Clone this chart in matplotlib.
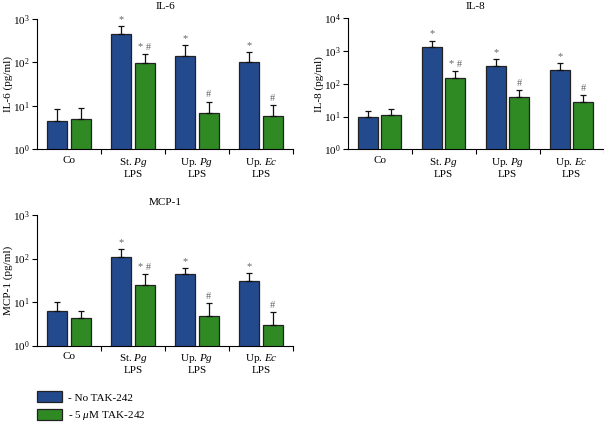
import numpy as np
import matplotlib
matplotlib.use("Agg")
import matplotlib.pyplot as plt
from matplotlib.patches import Patch
from matplotlib.ticker import FixedLocator, LogLocator, NullFormatter

plt.rcParams['font.family'] = ['Liberation Serif', 'DejaVu Serif']
plt.rcParams['mathtext.fontset'] = 'custom'
plt.rcParams['mathtext.rm'] = 'Liberation Serif'
plt.rcParams['mathtext.it'] = 'Liberation Serif:italic'

groups = ['Co', 'St. $Pg$\nLPS', 'Up. $Pg$\nLPS', 'Up. $Ec$\nLPS']

# IL-6 (pg/ml)
il6_no = [4.5, 460, 143, 100]
il6_no_err = [3.9, 240, 103, 76]
il6_tak = [4.9, 97, 6.8, 5.7]
il6_tak_err = [3.9, 61, 5.8, 4.8]

# IL-8 (pg/ml)
il8_no = [9.8, 1300, 350, 260]
il8_no_err = [4.8, 800, 220, 170]
il8_tak = [11.2, 155, 40, 28]
il8_tak_err = [6.4, 100, 26, 19]

# MCP-1 (pg/ml)
mcp_no = [6.2, 109, 43, 31]
mcp_no_err = [3.8, 55, 16, 16]
mcp_tak = [4.4, 25, 4.75, 2.9]
mcp_tak_err = [1.8, 19, 4.75, 3.0]

sig_no = ['', '*', '*', '*']
sig_tak = ['', '* #', '#', '#']

blue = '#244a8e'
green = '#2f8a24'
fs = 8

fig = plt.figure(figsize=(6.04, 4.23), dpi=100)


def panel(rect, title, ylab, ytop, no, no_err, tak, tak_err):
    ax = fig.add_axes(rect)
    x = np.arange(len(groups))
    off = 0.185
    w = 0.31
    for vals, errs, col, sig, dx in [(no, no_err, blue, sig_no, -off),
                                     (tak, tak_err, green, sig_tak, off)]:
        ax.bar(x + dx, vals, width=w, color=col, edgecolor='#222222', linewidth=0.9, zorder=2)
        ax.errorbar(x + dx, vals, yerr=[np.zeros(len(vals)), errs], fmt='none',
                    ecolor='#111111', elinewidth=0.9, capsize=2.2, capthick=0.9, zorder=3)
        for xi, v, e, s in zip(x + dx, vals, errs, sig):
            if s:
                ax.annotate(s, (xi, v + e), xytext=(0, 1.5), textcoords='offset points',
                            ha='center', va='bottom', fontsize=fs - 0.5, color='#666666')
    ax.set_yscale('log')
    ax.set_ylim(1, ytop)
    ax.set_xlim(-0.5, 3.5)
    ax.yaxis.set_major_locator(LogLocator(base=10, numticks=10))
    ax.yaxis.set_minor_locator(LogLocator(base=10, subs=[], numticks=10))
    ax.yaxis.set_minor_formatter(NullFormatter())
    ax.set_xticks(x)
    ax.set_xticklabels(groups, fontsize=fs, linespacing=1.1)
    ax.xaxis.set_minor_locator(FixedLocator([0.5, 1.5, 2.5, 3.5]))
    ax.tick_params(axis='x', which='major', length=0, pad=5)
    ax.tick_params(axis='x', which='minor', length=3.5, width=0.8)
    ax.tick_params(axis='y', which='major', length=3.5, width=0.8, labelsize=fs, pad=1.5)
    for sp in ['top', 'right']:
        ax.spines[sp].set_visible(False)
    for sp in ['left', 'bottom']:
        ax.spines[sp].set_linewidth(0.8)
    ax.set_ylabel(ylab, fontsize=fs)
    ax.yaxis.set_label_coords(-0.093, 0.5)
    ax.set_title(title, fontsize=fs, pad=7)
    return ax


panel([37 / 604, 1 - 149.3 / 423, 256 / 604, 130.3 / 423], 'IL-6', 'IL-6 (pg/ml)', 1e3,
      il6_no, il6_no_err, il6_tak, il6_tak_err)
panel([347.5 / 604, 1 - 149.3 / 423, 256 / 604, 130.8 / 423], 'IL-8', 'IL-8 (pg/ml)', 1e4,
      il8_no, il8_no_err, il8_tak, il8_tak_err)
panel([37 / 604, 1 - 345.5 / 423, 256 / 604, 130.5 / 423], 'MCP-1', 'MCP-1 (pg/ml)', 1e3,
      mcp_no, mcp_no_err, mcp_tak, mcp_tak_err)

handles = [Patch(facecolor=blue, edgecolor='#222222', linewidth=0.9),
           Patch(facecolor=green, edgecolor='#222222', linewidth=0.9)]
fig.legend(handles, ['- No TAK-242', '- 5 $\\mu$M TAK-242'], loc='lower left',
           bbox_to_anchor=(36 / 604, 0.0), frameon=False, fontsize=fs,
           handlelength=2.25, handleheight=1.15, labelspacing=0.6, handletextpad=0.6,
           borderaxespad=0.0, borderpad=0.05)

fig.savefig('out.png', dpi=100)
